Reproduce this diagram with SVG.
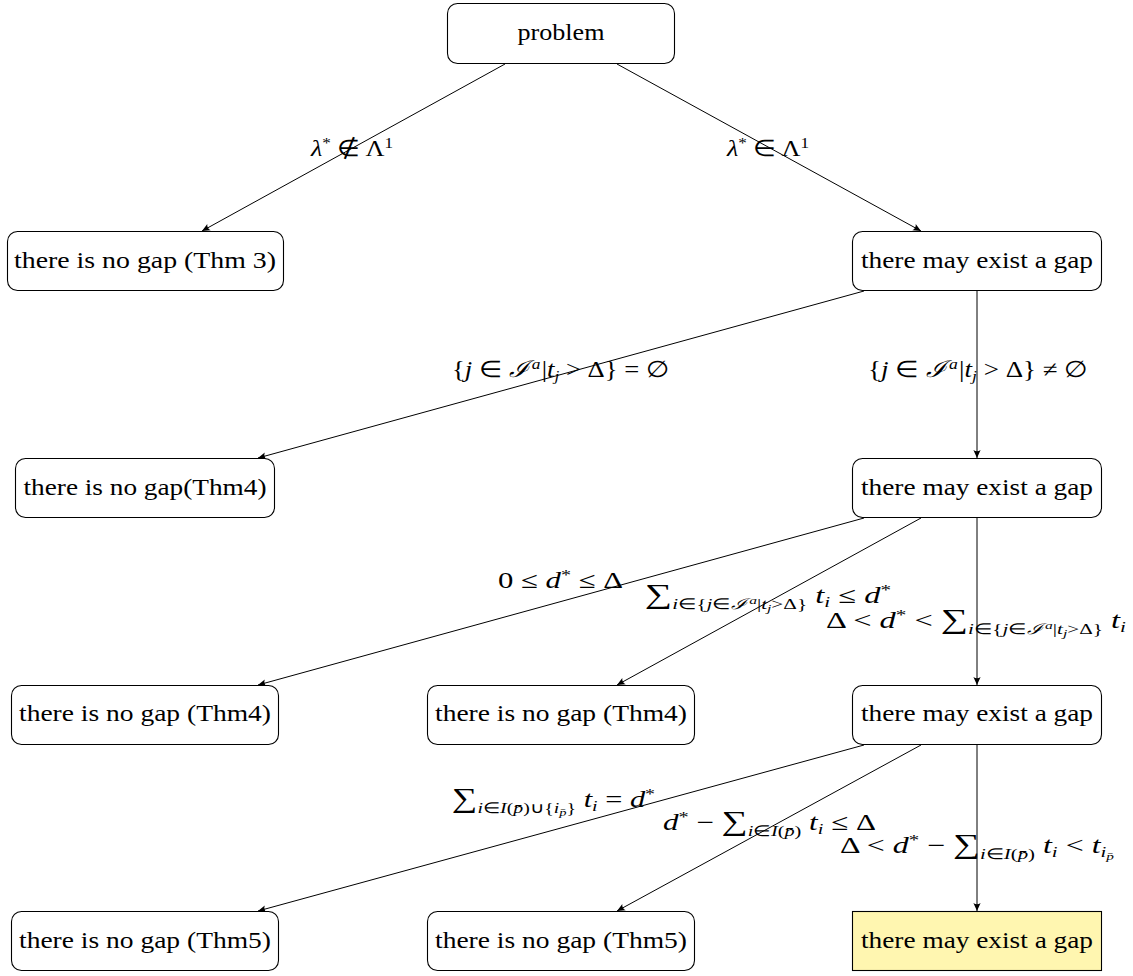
<svg xmlns="http://www.w3.org/2000/svg" width="1133" height="976" viewBox="0 0 1133 976">
<style>
.n{text-anchor:middle}
.i{font-style:italic}
.box{fill:#fff;stroke:#000;stroke-width:1.1}
.hl{fill:#fff6b0;stroke:#000;stroke-width:1.1}
.e{stroke:#000;stroke-width:1;fill:none;marker-end:url(#ah)}
.s{font-size:15px}
.ss{font-size:11px}
.big{font-size:27px}
</style>
<defs>
<marker id="ah" markerUnits="userSpaceOnUse" markerWidth="12" markerHeight="10" viewBox="-9 -5 10 10" refX="0" refY="0" orient="auto">
<path d="M0,0 L-8,-3.6 Q-5.5,0 -8,3.6 Z" fill="#000"/>
</marker>
</defs>
<g id="connectors">
<line class="e" x1="505" y1="64" x2="202" y2="231"/>
<line class="e" x1="617" y1="64" x2="921" y2="231"/>
<line class="e" x1="864" y1="291" x2="258" y2="458"/>
<line class="e" x1="977" y1="291" x2="977" y2="458"/>
<line class="e" x1="864" y1="518" x2="258" y2="685"/>
<line class="e" x1="921" y1="518" x2="617" y2="685"/>
<line class="e" x1="977" y1="518" x2="977" y2="685"/>
<line class="e" x1="864" y1="745" x2="258" y2="911"/>
<line class="e" x1="921" y1="745" x2="617" y2="911"/>
<line class="e" x1="977" y1="745" x2="977" y2="911"/>
</g>
<g id="n-problem"><rect class="box" x="447.5" y="3.5" width="227" height="60" rx="10"/><text class="n" font-family="Liberation Serif" font-size="23" x="561" y="40" textLength="87" lengthAdjust="spacingAndGlyphs">problem</text></g>
<g id="n-thm3"><rect class="box" x="7.5" y="231.5" width="276" height="59" rx="10"/><text class="n" font-family="Liberation Serif" font-size="23" x="145" y="268" textLength="262" lengthAdjust="spacingAndGlyphs">there is no gap (Thm 3)</text></g>
<g id="n-gap1"><rect class="box" x="852.5" y="231.5" width="249" height="59" rx="10"/><text class="n" font-family="Liberation Serif" font-size="23" x="977" y="268" textLength="232" lengthAdjust="spacingAndGlyphs">there may exist a gap</text></g>
<g id="n-thm4a"><rect class="box" x="15.5" y="458.5" width="259" height="59" rx="10"/><text class="n" font-family="Liberation Serif" font-size="23" x="145" y="495" textLength="243" lengthAdjust="spacingAndGlyphs">there is no gap(Thm4)</text></g>
<g id="n-gap2"><rect class="box" x="852.5" y="458.5" width="249" height="59" rx="10"/><text class="n" font-family="Liberation Serif" font-size="23" x="977" y="495" textLength="232" lengthAdjust="spacingAndGlyphs">there may exist a gap</text></g>
<g id="n-thm4b"><rect class="box" x="11.5" y="685.5" width="267" height="59" rx="10"/><text class="n" font-family="Liberation Serif" font-size="23" x="145" y="721" textLength="252" lengthAdjust="spacingAndGlyphs">there is no gap (Thm4)</text></g>
<g id="n-thm4c"><rect class="box" x="427.5" y="685.5" width="267" height="59" rx="10"/><text class="n" font-family="Liberation Serif" font-size="23" x="561" y="721" textLength="252" lengthAdjust="spacingAndGlyphs">there is no gap (Thm4)</text></g>
<g id="n-gap3"><rect class="box" x="852.5" y="685.5" width="249" height="59" rx="10"/><text class="n" font-family="Liberation Serif" font-size="23" x="977" y="721" textLength="232" lengthAdjust="spacingAndGlyphs">there may exist a gap</text></g>
<g id="n-thm5a"><rect class="box" x="11.5" y="911.5" width="267" height="59" rx="10"/><text class="n" font-family="Liberation Serif" font-size="23" x="145" y="948" textLength="252" lengthAdjust="spacingAndGlyphs">there is no gap (Thm5)</text></g>
<g id="n-thm5b"><rect class="box" x="427.5" y="911.5" width="267" height="59" rx="10"/><text class="n" font-family="Liberation Serif" font-size="23" x="561" y="948" textLength="252" lengthAdjust="spacingAndGlyphs">there is no gap (Thm5)</text></g>
<g id="n-gap4"><rect class="hl" x="852.5" y="911.5" width="249" height="59"/><text class="n" font-family="Liberation Serif" font-size="23" x="977" y="948" textLength="232" lengthAdjust="spacingAndGlyphs">there may exist a gap</text></g>
<g id="labels">
<text font-family="Liberation Serif" font-size="23" x="311" y="156" textLength="82" lengthAdjust="spacingAndGlyphs"><tspan class="i">λ</tspan><tspan class="s" dy="-8">*</tspan><tspan dy="8"> ∉ Λ</tspan><tspan class="s" dy="-8">1</tspan></text>
<text font-family="Liberation Serif" font-size="23" x="727" y="156" textLength="82" lengthAdjust="spacingAndGlyphs"><tspan class="i">λ</tspan><tspan class="s" dy="-8">*</tspan><tspan dy="8"> ∈ Λ</tspan><tspan class="s" dy="-8">1</tspan></text>
<text font-family="Liberation Serif" font-size="23" x="452" y="377" textLength="217" lengthAdjust="spacingAndGlyphs">{<tspan class="i">j</tspan> ∈ <tspan class="i">ℐ</tspan><tspan class="s i" dx="3" dy="-8">a</tspan><tspan dx="1" dy="8">|<tspan class="i">t</tspan></tspan><tspan class="s i" dy="4">j</tspan><tspan dy="-4"> &gt; Δ} = ∅</tspan></text>
<text font-family="Liberation Serif" font-size="23" x="868" y="377" textLength="220" lengthAdjust="spacingAndGlyphs">{<tspan class="i">j</tspan> ∈ <tspan class="i">ℐ</tspan><tspan class="s i" dx="3" dy="-8">a</tspan><tspan dx="1" dy="8">|<tspan class="i">t</tspan></tspan><tspan class="s i" dy="4">j</tspan><tspan dy="-4"> &gt; Δ} ≠ ∅</tspan></text>
<text font-family="Liberation Serif" font-size="23" x="498" y="588" textLength="125" lengthAdjust="spacingAndGlyphs">0 ≤ <tspan class="i">d</tspan><tspan class="s" dy="-8">*</tspan><tspan dy="8"> ≤ Δ</tspan></text>
<text font-family="Liberation Serif" font-size="23" x="645" y="603" textLength="246" lengthAdjust="spacingAndGlyphs"><tspan class="big">∑</tspan><tspan class="s" dy="6"><tspan class="i">i</tspan>∈{<tspan class="i">j</tspan>∈<tspan class="i">ℐ</tspan></tspan><tspan class="ss i" dx="2" dy="-5">a</tspan><tspan class="s" dy="5">|<tspan class="i">t</tspan></tspan><tspan class="ss i" dy="3">j</tspan><tspan class="s" dy="-3">&gt;Δ}</tspan><tspan dy="-6"> <tspan class="i">t</tspan></tspan><tspan class="s i" dy="4">i</tspan><tspan dy="-4"> ≤ <tspan class="i">d</tspan></tspan><tspan class="s" dy="-8">*</tspan></text>
<text font-family="Liberation Serif" font-size="23" x="826" y="628" textLength="300" lengthAdjust="spacingAndGlyphs">Δ &lt; <tspan class="i">d</tspan><tspan class="s" dy="-8">*</tspan><tspan dy="8"> &lt; </tspan><tspan class="big">∑</tspan><tspan class="s" dy="6"><tspan class="i">i</tspan>∈{<tspan class="i">j</tspan>∈<tspan class="i">ℐ</tspan></tspan><tspan class="ss i" dx="2" dy="-5">a</tspan><tspan class="s" dy="5">|<tspan class="i">t</tspan></tspan><tspan class="ss i" dy="3">j</tspan><tspan class="s" dy="-3">&gt;Δ}</tspan><tspan dy="-6"> <tspan class="i">t</tspan></tspan><tspan class="s i" dy="4">i</tspan></text>
<text font-family="Liberation Serif" font-size="23" x="452" y="807" textLength="203" lengthAdjust="spacingAndGlyphs"><tspan class="big">∑</tspan><tspan class="s" dy="6"><tspan class="i">i</tspan>∈<tspan class="i">I</tspan>(<tspan class="i">p̄</tspan>)∪{<tspan class="i">i</tspan></tspan><tspan class="ss i" dy="3">p̄</tspan><tspan class="s" dy="-3">}</tspan><tspan dy="-6"> <tspan class="i">t</tspan></tspan><tspan class="s i" dy="4">i</tspan><tspan dy="-4"> = <tspan class="i">d</tspan></tspan><tspan class="s" dy="-8">*</tspan></text>
<text font-family="Liberation Serif" font-size="23" x="663" y="830" textLength="213" lengthAdjust="spacingAndGlyphs"><tspan class="i">d</tspan><tspan class="s" dy="-8">*</tspan><tspan dy="8"> − </tspan><tspan class="big">∑</tspan><tspan class="s" dy="6"><tspan class="i">i</tspan>∈<tspan class="i">I</tspan>(<tspan class="i">p̄</tspan>)</tspan><tspan dy="-6"> <tspan class="i">t</tspan></tspan><tspan class="s i" dy="4">i</tspan><tspan dy="-4"> ≤ Δ</tspan></text>
<text font-family="Liberation Serif" font-size="23" x="840" y="853" textLength="274" lengthAdjust="spacingAndGlyphs">Δ &lt; <tspan class="i">d</tspan><tspan class="s" dy="-8">*</tspan><tspan dy="8"> − </tspan><tspan class="big">∑</tspan><tspan class="s" dy="6"><tspan class="i">i</tspan>∈<tspan class="i">I</tspan>(<tspan class="i">p̄</tspan>)</tspan><tspan dy="-6"> <tspan class="i">t</tspan></tspan><tspan class="s i" dy="4">i</tspan><tspan dy="-4"> &lt; <tspan class="i">t</tspan></tspan><tspan class="s i" dy="4">i</tspan><tspan class="ss i" dy="3">p̄</tspan></text>
</g>
</svg>
